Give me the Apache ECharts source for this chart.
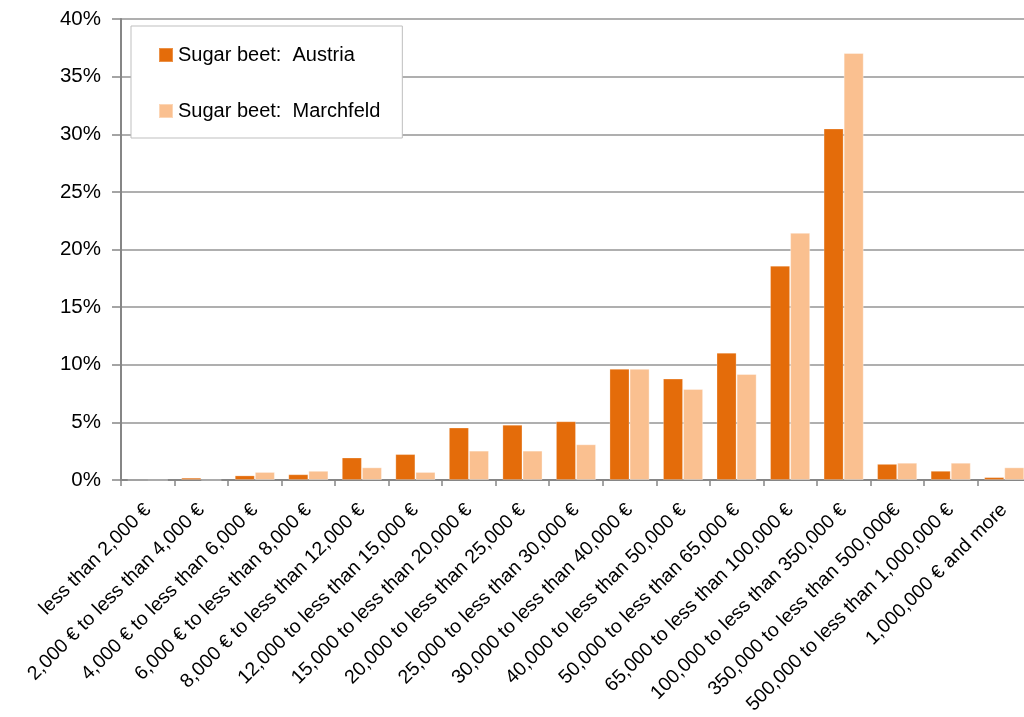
<!DOCTYPE html>
<html>
<head>
<meta charset="utf-8">
<script src="https://cdn.jsdelivr.net/npm/echarts@6/dist/echarts.min.js"></script>
<style>
  html, body { margin: 0; padding: 0; background: #ffffff; }
  #chart { width: 1024px; height: 717px; }
</style>
</head>
<body>
<div id="chart"></div>
<script>
// Size classes of standard output
const categories = [
  'less than 2,000 €',
  '2,000 € to less than 4,000 €',
  '4,000 € to less than 6,000 €',
  '6,000 € to less than 8,000 €',
  '8,000 € to less than 12,000 €',
  '12,000 to less than 15,000 €',
  '15,000 to less than 20,000 €',
  '20,000 to less than 25,000 €',
  '25,000 to less than 30,000 €',
  '30,000 to less than 40,000 €',
  '40,000 to less than 50,000 €',
  '50,000 to less than 65,000 €',
  '65,000 to less than 100,000 €',
  '100,000 to less than 350,000 €',
  '350,000 to less than 500,000€',
  '500,000 to less than 1,000,000 €',
  '1,000,000 € and more'
];

// Share of sugar beet area per size class, in percent
const austria    = [0.0, 0.2, 0.4, 0.5, 1.95, 2.25, 4.55, 4.8, 5.1, 9.65, 8.8, 11.05, 18.6, 30.5, 1.4, 0.8, 0.25];
const marchfeld  = [0.0, 0.0, 0.7, 0.8, 1.1, 0.7, 2.55, 2.55, 3.1, 9.65, 7.9, 9.2, 21.45, 37.05, 1.5, 1.5, 1.1];

const seriesNames = ['Sugar beet:  Austria', 'Sugar beet:  Marchfeld'];
const seriesColors = ['#E46C0A', '#FAC090'];

const FONT = '"Liberation Sans", Arial, sans-serif';

const chart = echarts.init(document.getElementById('chart'), null, { renderer: 'canvas' });

chart.setOption({
  animation: false,
  backgroundColor: '#ffffff',
  textStyle: { fontFamily: FONT, color: '#000000' },
  grid: {
    left: 121, top: 19, width: 910, bottom: 237,
    containLabel: false,
    outerBoundsMode: 'none'
  },
  legend: {
    orient: 'vertical',
    left: 131,
    top: 26,
    padding: [19, 22, 17, 27],
    itemGap: 36,
    itemWidth: 14,
    itemHeight: 14,
    icon: 'rect',
    backgroundColor: '#ffffff',
    borderColor: '#BFBFBF',
    borderWidth: 1,
    textStyle: { fontFamily: FONT, fontSize: 20, color: '#000000' },
    data: seriesNames
  },
  xAxis: {
    type: 'category',
    data: categories,
    boundaryGap: true,
    axisLine: { lineStyle: { color: '#868686', width: 2 } },
    axisTick: { show: true, length: 6, lineStyle: { color: '#868686', width: 1.5 } },
    axisLabel: {
      interval: 0,
      rotate: 45,
      margin: 27,
      fontFamily: FONT,
      fontSize: 19.5,
      color: '#000000'
    },
    splitLine: { show: false }
  },
  yAxis: {
    type: 'value',
    min: 0,
    max: 40,
    interval: 5,
    axisLine: { show: true, lineStyle: { color: '#868686', width: 2 } },
    axisTick: { show: true, length: 9, lineStyle: { color: '#868686', width: 1.5 } },
    axisLabel: {
      formatter: '{value}%',
      margin: 20,
      fontFamily: FONT,
      fontSize: 20.5,
      color: '#000000'
    },
    splitLine: { show: true, lineStyle: { color: '#959595', width: 1.5 } }
  },
  series: [
    {
      name: seriesNames[0],
      type: 'bar',
      data: austria,
      barGap: '0%',
      barCategoryGap: '25%',
      itemStyle: { color: seriesColors[0], borderColor: 'rgba(255,255,255,0.25)', borderWidth: 1 }
    },
    {
      name: seriesNames[1],
      type: 'bar',
      data: marchfeld,
      barGap: '0%',
      barCategoryGap: '25%',
      itemStyle: { color: seriesColors[1], borderColor: 'rgba(255,255,255,0.35)', borderWidth: 1 }
    }
  ]
});
</script>
</body>
</html>
